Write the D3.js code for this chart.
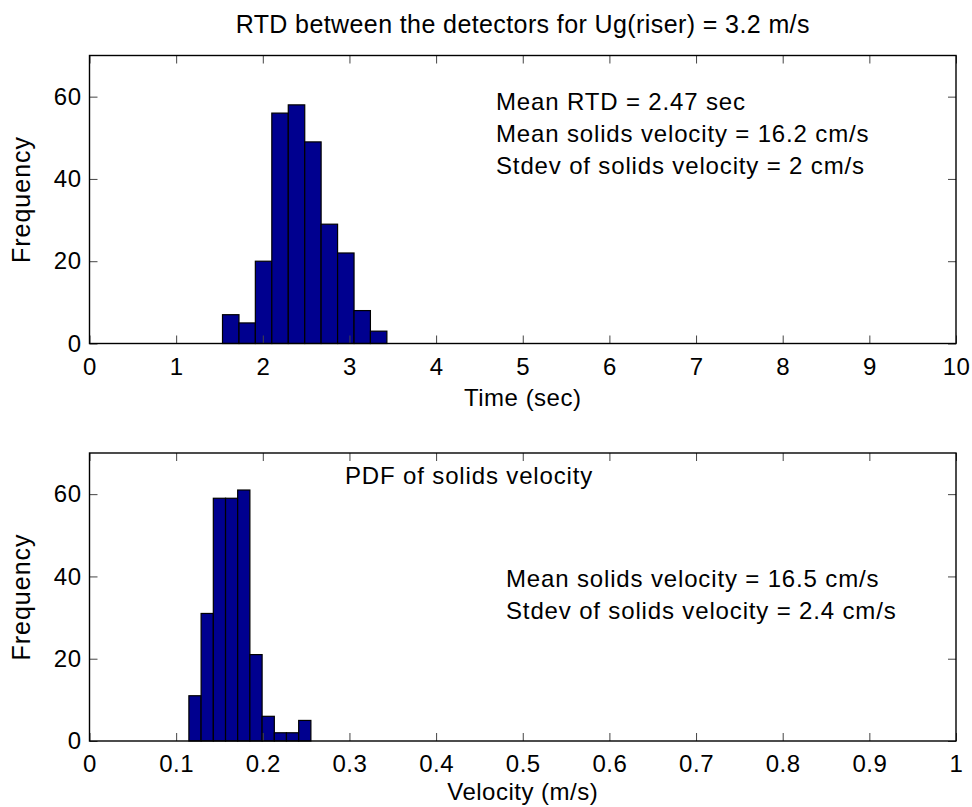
<!DOCTYPE html>
<html><head><meta charset="utf-8">
<script src="https://cdn.jsdelivr.net/npm/d3@7/dist/d3.min.js"></script>
<style>
body{margin:0;background:#fff}
text{font-family:"Liberation Sans",Arial,Helvetica,sans-serif;fill:#000}
</style></head>
<body><svg id="c" width="972" height="807"></svg>
<script>
// ---- data ----
const timeEdges = [1.535, 1.725, 1.914, 2.104, 2.294, 2.484, 2.673, 2.863, 3.053, 3.242, 3.432];
const timeCounts = [7, 5, 20, 56, 58, 49, 29, 22, 8, 3];
const velEdges = [0.1147, 0.1288, 0.1429, 0.1570, 0.1710, 0.1851, 0.1992, 0.2133, 0.2273, 0.2414, 0.2555];
const velCounts = [11, 31, 59, 59, 61, 21, 6, 2, 2, 5];
const timeTicks = [0, 1, 2, 3, 4, 5, 6, 7, 8, 9, 10];
const timeTickLabels = ["0", "1", "2", "3", "4", "5", "6", "7", "8", "9", "10"];
const velTicks = [0, 0.1, 0.2, 0.3, 0.4, 0.5, 0.6, 0.7, 0.8, 0.9, 1];
const velTickLabels = ["0", "0.1", "0.2", "0.3", "0.4", "0.5", "0.6", "0.7", "0.8", "0.9", "1"];
const freqTicks = [0, 20, 40, 60];
const freqTickLabels = ["0", "20", "40", "60"];
const titleText = "RTD between the detectors for Ug(riser) = 3.2 m/s";
const topNotes = ["Mean RTD = 2.47 sec", "Mean solids velocity = 16.2 cm/s", "Stdev of solids velocity = 2 cm/s"];
const bottomNotes = ["Mean solids velocity = 16.5 cm/s", "Stdev of solids velocity = 2.4 cm/s"];
const bottomCaption = "PDF of solids velocity";

// ---- layout ----
const svg = d3.select("#c");
const L = 89.5, R = 956;
const FS = 24, LS = "0.5px", NLS = "0.85px";

function panel(top, bottom, xMax, edges, counts, ticks, tickLabels, xlabel, xlabelY) {
  const x = d3.scaleLinear().domain([0, xMax]).range([L, R]);
  const y = d3.scaleLinear().domain([0, 70]).range([bottom, top]);
  const g = svg.append("g");
  const bins = counts.map((c, i) => ({x0: edges[i], x1: edges[i + 1], c}));
  g.selectAll("rect.bar").data(bins).join("rect")
    .attr("class", "bar")
    .attr("x", d => x(d.x0)).attr("width", d => x(d.x1) - x(d.x0))
    .attr("y", d => y(d.c)).attr("height", d => y(0) - y(d.c))
    .attr("fill", "#00008F").attr("stroke", "#000").attr("stroke-width", 1.2);
  const fmt = (arr, labels) => (d => labels[arr.indexOf(d)]);
  const ax = g.append("g").attr("transform", `translate(0,${bottom})`)
    .call(d3.axisBottom(x).tickValues(ticks).tickFormat(fmt(ticks, tickLabels)).tickSize(-8).tickPadding(14));
  const axT = g.append("g").attr("transform", `translate(0,${top})`)
    .call(d3.axisTop(x).tickValues(ticks).tickFormat("").tickSize(-8));
  const ay = g.append("g").attr("transform", `translate(${L},0)`)
    .call(d3.axisLeft(y).tickValues(freqTicks).tickFormat(fmt(freqTicks, freqTickLabels)).tickSize(-8).tickPadding(8));
  const ayR = g.append("g").attr("transform", `translate(${R},0)`)
    .call(d3.axisRight(y).tickValues(freqTicks).tickFormat("").tickSize(-8));
  [ax, axT, ay, ayR].forEach(a => {
    a.select(".domain").remove();
    a.selectAll(".tick line").attr("stroke", "#444").attr("stroke-width", 1);
    a.selectAll(".tick text").attr("font-size", FS).attr("letter-spacing", LS)
      .attr("font-family", '"Liberation Sans",Arial,sans-serif').attr("fill", "#000");
  });
  g.append("rect").attr("x", L).attr("y", top).attr("width", R - L).attr("height", bottom - top)
    .attr("fill", "none").attr("stroke", "#000").attr("stroke-width", 1.4);
  g.append("text").attr("x", (L + R) / 2).attr("y", xlabelY).attr("text-anchor", "middle")
    .attr("font-size", FS).attr("letter-spacing", LS).text(xlabel);
  g.append("text").attr("transform", `translate(30,${(top + bottom) / 2}) rotate(-90)`)
    .attr("text-anchor", "middle").attr("font-size", 25).attr("letter-spacing", "1px").text("Frequency");
  return {x, y, g};
}

panel(55.5, 343.5, 10, timeEdges, timeCounts, timeTicks, timeTickLabels, "Time (sec)", 406);
panel(453, 741, 1, velEdges, velCounts, velTicks, velTickLabels, "Velocity (m/s)", 800);

svg.append("text").attr("x", (L + R) / 2).attr("y", 33).attr("text-anchor", "middle")
  .attr("font-size", 25).attr("letter-spacing", "0.4px").text(titleText);

topNotes.forEach((t, i) => {
  svg.append("text").attr("x", 496).attr("y", 110 + i * 32).attr("font-size", FS).attr("letter-spacing", NLS).text(t);
});
svg.append("text").attr("x", 345).attr("y", 484).attr("font-size", FS).attr("letter-spacing", NLS).text(bottomCaption);
bottomNotes.forEach((t, i) => {
  svg.append("text").attr("x", 506).attr("y", 587 + i * 32).attr("font-size", FS).attr("letter-spacing", NLS).text(t);
});
</script></body></html>
